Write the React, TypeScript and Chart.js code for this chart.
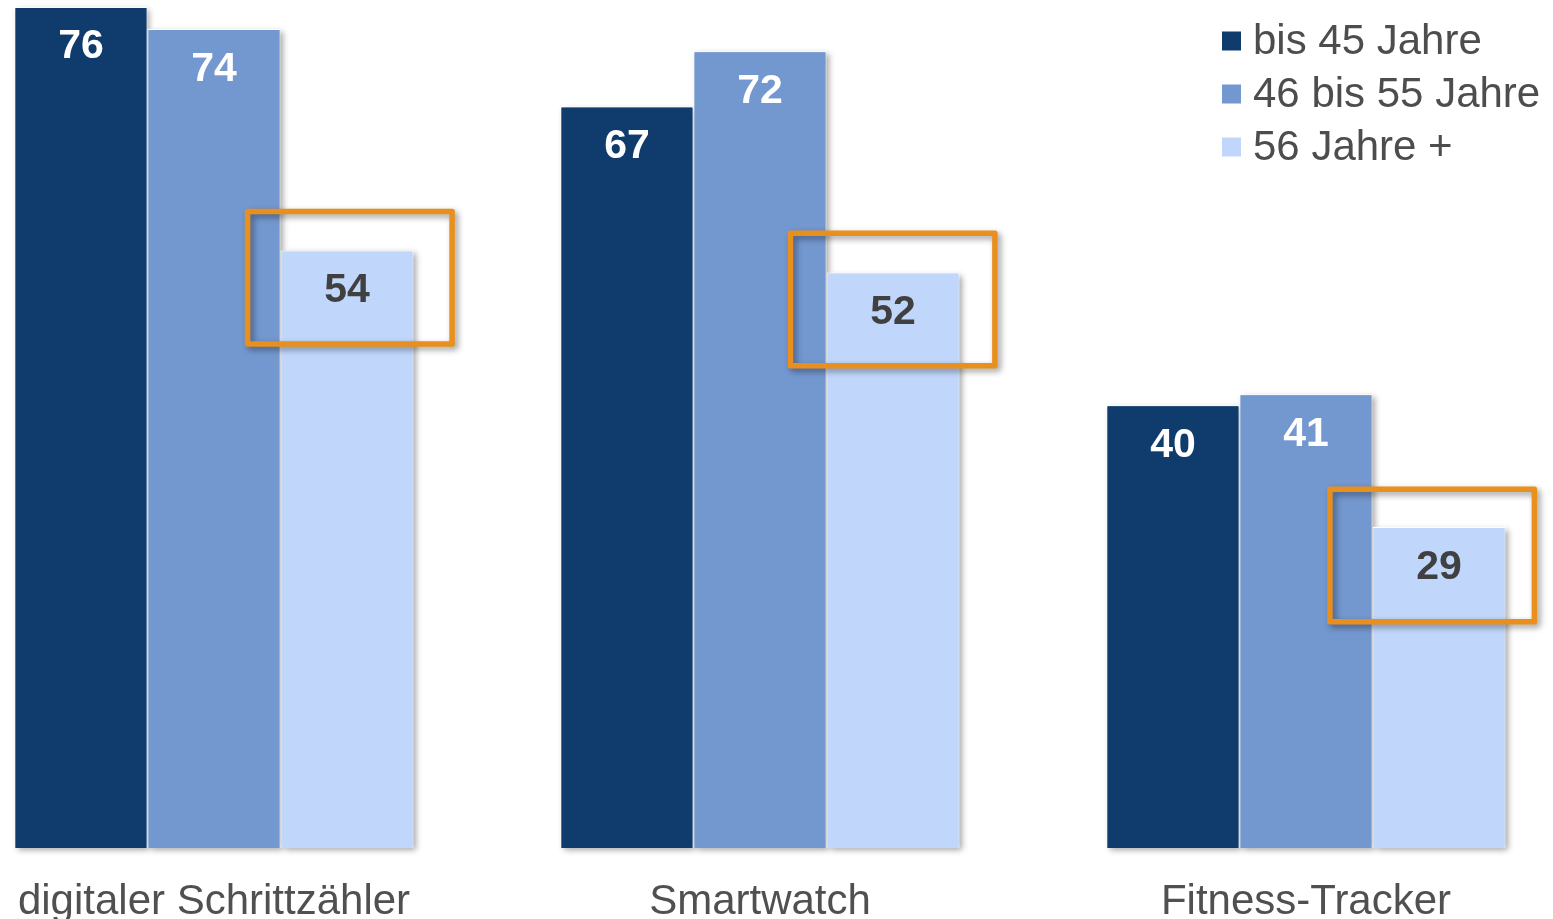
import { useEffect, useRef } from "react";
import { Chart, registerables } from "chart.js";

Chart.register(...registerables);

const categories = ["digitaler Schrittzähler", "Smartwatch", "Fitness-Tracker"];
const seriesNames = ["bis 45 Jahre", "46 bis 55 Jahre", "56 Jahre +"];
const seriesUpTo45 = [76, 67, 40];
const series46to55 = [74, 72, 41];
const series56plus = [54, 52, 29];
const seriesColors = ["#0f3b6d", "#7397cf", "#c1d6fb"];
const valueLabelColors = ["#ffffff", "#ffffff", "#404040"];
const highlightedSeries = 2;

const FONT = "'Liberation Sans', Arial, Helvetica, sans-serif";
const CANVAS_W = 1638;
const CANVAS_H = 919;
const SHIFT_X = 59; // canvas starts 59px left of page

// highlight-box style (horizontal nudge per box, as in the original slide)
const boxNudgeX = [2.8, -0.4, -6.9];
const boxW = 204.5;
const boxH = 132.5;
const boxTopOffset = [-39, -39.3, -37.8];

const shadowPlugin = {
  id: "barShadow",
  beforeDatasetsDraw(chart: any) {
    const ctx = chart.ctx;
    chart.data.datasets.forEach((_ds: any, i: number) => {
      const meta = chart.getDatasetMeta(i);
      meta.data.forEach((bar: any) => {
        const left = bar.x - bar.width / 2;
        const top = bar.y;
        const h = bar.base - bar.y;
        ctx.save();
        ctx.shadowColor = "rgba(0,0,0,0.35)";
        ctx.shadowBlur = 6;
        ctx.shadowOffsetX = 3;
        ctx.shadowOffsetY = 2;
        ctx.fillStyle = seriesColors[i];
        ctx.fillRect(left + 1, top + 1, bar.width - 2, h - 1);
        ctx.restore();
      });
    });
  },
};

const overlayPlugin = {
  id: "overlay",
  afterDraw(chart: any) {
    const ctx = chart.ctx;
    // highlight boxes
    const hMeta = chart.getDatasetMeta(highlightedSeries);
    hMeta.data.forEach((bar: any, j: number) => {
      const cx = bar.x + boxNudgeX[j];
      const left = cx - boxW / 2;
      const top = bar.y + boxTopOffset[j];
      ctx.save();
      ctx.shadowColor = "rgba(0,0,0,0.4)";
      ctx.shadowBlur = 6;
      ctx.shadowOffsetX = 3;
      ctx.shadowOffsetY = 3;
      ctx.strokeStyle = "#e88f1e";
      ctx.lineWidth = 5.5;
      ctx.lineJoin = "round";
      ctx.strokeRect(left, top, boxW, boxH);
      ctx.restore();
    });

    // value labels
    ctx.save();
    ctx.font = `bold 41px ${FONT}`;
    ctx.textAlign = "center";
    ctx.textBaseline = "alphabetic";
    chart.data.datasets.forEach((ds: any, i: number) => {
      const meta = chart.getDatasetMeta(i);
      ctx.fillStyle = valueLabelColors[i];
      meta.data.forEach((bar: any, j: number) => {
        ctx.fillText(String(ds.data[j]), bar.x, bar.y + 51.5);
      });
    });
    ctx.restore();

    // category labels
    const xScale = chart.scales.x;
    ctx.save();
    ctx.font = `42px ${FONT}`;
    ctx.fillStyle = "#505050";
    ctx.textAlign = "center";
    ctx.textBaseline = "alphabetic";
    categories.forEach((c, i) => {
      ctx.fillText(c, xScale.getPixelForValue(i), 914);
    });
    ctx.restore();

    // legend
    ctx.save();
    ctx.font = `42px ${FONT}`;
    ctx.textAlign = "left";
    ctx.textBaseline = "alphabetic";
    seriesNames.forEach((name, i) => {
      const cy = 41 + i * 53;
      ctx.fillStyle = seriesColors[i];
      ctx.fillRect(1222 + SHIFT_X, cy - 9.5, 19, 19);
      ctx.fillStyle = "#4d4d4d";
      ctx.fillText(name, 1253 + SHIFT_X, 54 + i * 53);
    });
    ctx.restore();
  },
};

export default function App() {
  const ref = useRef<HTMLCanvasElement>(null);
  useEffect(() => {
    if (!ref.current) return;
    const seriesData = [seriesUpTo45, series46to55, series56plus];
    const chart = new Chart(ref.current, {
      type: "bar",
      data: {
        labels: categories,
        datasets: seriesNames.map((name, i) => ({
          label: name,
          data: seriesData[i],
          backgroundColor: seriesColors[i],
          borderColor: "#ffffff",
          borderWidth: 1,
          categoryPercentage: 0.731,
          barPercentage: 1,
        })),
      },
      options: {
        animation: false,
        responsive: false,
        devicePixelRatio: 1,
        layout: { padding: { top: 0, bottom: 71, left: 0, right: 0 } },
        scales: {
          x: { display: false },
          y: { display: false, min: 0, max: 76.63 },
        },
        plugins: {
          legend: { display: false },
          tooltip: { enabled: false },
        },
      },
      plugins: [shadowPlugin, overlayPlugin],
    });
    return () => chart.destroy();
  }, []);

  return (
    <div
      style={{
        position: "fixed",
        left: 0,
        top: 0,
        width: 1553,
        height: 919,
        overflow: "hidden",
        background: "#ffffff",
      }}
    >
      <canvas
        ref={ref}
        width={CANVAS_W}
        height={CANVAS_H}
        style={{ position: "absolute", left: -SHIFT_X, top: 0, width: CANVAS_W, height: CANVAS_H }}
      />
    </div>
  );
}
